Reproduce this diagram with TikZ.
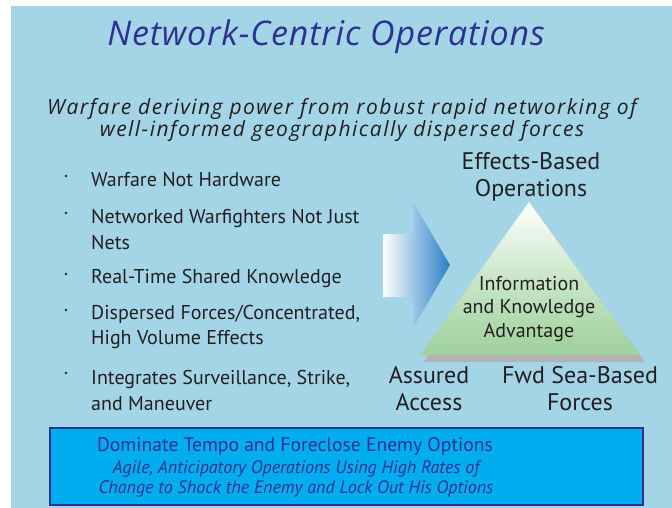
\documentclass[tikz,border=0pt]{standalone}
\usepackage{fontspec}
\setmainfont{PT Sans}
\newfontfamily\titlefont{Open Sans}[LetterSpace=2.5]
\newfontfamily\subfont{Open Sans}[LetterSpace=7]
\definecolor{bgblue}{HTML}{A3D5E7}
\definecolor{boxblue}{HTML}{00AEEF}
\definecolor{indigo}{HTML}{2E3192}
\definecolor{ink}{HTML}{231F20}
\definecolor{pgreen}{HTML}{9DD19A}
\definecolor{arrblue}{HTML}{2A80C6}
\tikzset{
  title/.style={text=indigo, font=\titlefont\fontsize{34}{34}\selectfont\itshape, inner sep=0pt},
  sub/.style={text=ink, font=\subfont\fontsize{21}{22}\selectfont\itshape, align=center, inner sep=0pt},
  bullettext/.style={text=ink, font=\fontsize{20}{25.5}\selectfont, anchor=west, align=left, inner sep=0pt},
  dot/.style={circle, fill=ink, inner sep=0pt, minimum size=2.6pt},
  lab/.style={text=ink, font=\fontsize{24}{27}\selectfont, align=center, inner sep=0pt},
  inner/.style={text=ink, font=\fontsize{20}{23.5}\selectfont, align=center, inner sep=0pt},
  boxline/.style={text=indigo, inner sep=0pt, align=center},
}
\begin{document}
\begin{tikzpicture}[x=1pt,y=-1pt]
\useasboundingbox (0,0) rectangle (672,508);
\fill[white] (0,0) rectangle (672,508);
\fill[bgblue] (11,6) rectangle (672,508);
% title
\node[title] (t) at (326,37) {Network-Centric Operations};
\node[sub] (s) at (342,120) {Warfare deriving power from robust rapid networking of\\well-informed geographically dispersed forces};
% bullets
\foreach \n/\y/\txt in {b1/180/{Warfare Not Hardware},
  b2/229.5/{Networked Warfighters Not Just\\Nets},
  b3/278/{Real-Time Shared Knowledge},
  b4/327/{Dispersed Forces/Concentrated,\\High Volume Effects},
  b5/390.5/{Integrates Surveillance, Strike,\\and Maneuver}} {
  \node[bullettext] (\n) at (91,\y) {\txt};
}
\node[dot] (d1) at (66,176) {};
\node[dot] (d2) at (66,213) {};
\node[dot] (d3) at (66,274) {};
\node[dot] (d4) at (66,310) {};
\node[dot] (d5) at (66,373) {};
% arrow
\shade[left color=white, right color=arrblue]
  (383,234) -- (413,234) -- (413,202) -- (450,265) -- (413,328) -- (413,297) -- (383,297) -- cycle;
% triangle shadow and triangle
\fill[gray!60] (533,207) -- (645,362) -- (424,362) -- cycle;
\shade[top color=white, bottom color=pgreen, middle color=pgreen!55] (529,202) -- (640,355) -- (420,355) -- cycle;
\node[inner] (info) at (529,309) {Information\\and Knowledge\\Advantage};
% labels
\node[lab] (ebo) at (531,177) {Effects-Based\\Operations};
\node[lab] (aa) at (429,389) {Assured\\Access};
\node[lab] (fwd) at (580,389) {Fwd Sea-Based\\Forces};
% bottom box
\draw[draw=indigo, line width=2pt, fill=boxblue] (50,428) rectangle (643,505);
\node[boxline, font=\fontsize{19.6}{19.6}\selectfont] (bx1) at (295,447) {Dominate Tempo and Foreclose Enemy Options};
\node[boxline, font=\fontsize{18}{20}\selectfont\itshape] (bx2) at (296,479) {Agile, Anticipatory Operations Using High Rates of\\Change to Shock the Enemy and Lock Out His Options};
\end{tikzpicture}
\end{document}
